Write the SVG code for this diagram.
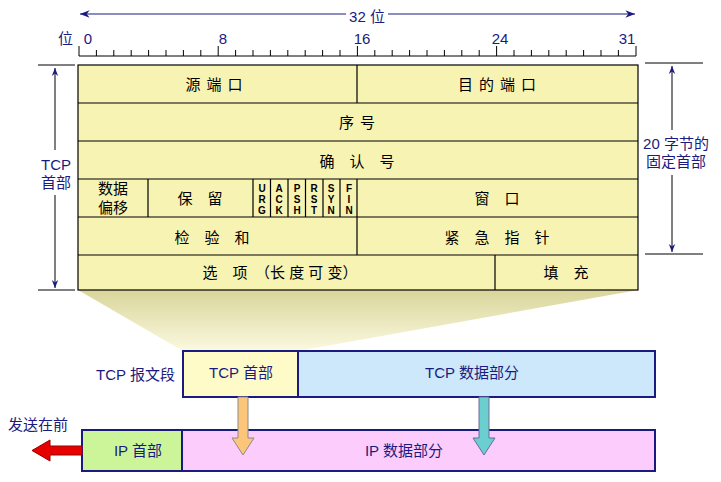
<svg xmlns="http://www.w3.org/2000/svg" width="721" height="482" viewBox="0 0 721 482">
<defs>
<style>
text{font-family:"Liberation Sans","Noto Sans CJK SC",sans-serif;fill:#000;}
.b{fill:#1a1a80;font-size:15px}
.t{font-size:15px;text-anchor:middle}
.f{font-size:10px;font-weight:bold;text-anchor:middle}
.cell{fill:#f7f3b3;stroke:#000;stroke-width:1.2}
.ln{stroke:#1a1a80;stroke-width:1.2;fill:none}
</style>
<marker id="a" viewBox="0 0 10 10" refX="10" refY="5" markerWidth="10" markerHeight="8" orient="auto-start-reverse"><path d="M0,1L10,5L0,9L3,5z" fill="#1a1a80"/></marker>
<linearGradient id="g" x1="0" y1="0" x2="0" y2="1"><stop offset="0" stop-color="#d9d59a"/><stop offset="1" stop-color="#fbf9e0"/></linearGradient>
</defs>
<polygon points="78,290 638,290 298,351 183,351" fill="url(#g)"/>
<g id="ruler">
<line class="ln" x1="80" y1="14" x2="346" y2="14" marker-start="url(#a)"/>
<line class="ln" x1="388" y1="14" x2="635" y2="14" marker-end="url(#a)"/>
<text class="b" x="367" y="22" text-anchor="middle" font-size="17">32 位</text>
<text class="b" x="58" y="44">位</text>
<text class="b" x="88" y="44" text-anchor="middle">0</text>
<text class="b" x="223" y="44" text-anchor="middle">8</text>
<text class="b" x="362" y="44" text-anchor="middle">16</text>
<text class="b" x="500" y="44" text-anchor="middle">24</text>
<text class="b" x="627" y="44" text-anchor="middle">31</text>
<line x1="79" y1="56" x2="636" y2="56" stroke="#000"/>
<path stroke="#000" d="M79,46V56M96.4,50V56M113.8,50V56M131.2,50V56M148.6,50V56M166,50V56M183.4,50V56M200.8,50V56M218.2,46V56M235.6,50V56M253,50V56M270.4,50V56M287.8,50V56M305.2,50V56M322.6,50V56M340,50V56M357.4,46V56M374.8,50V56M392.2,50V56M409.6,50V56M427,50V56M444.4,50V56M461.8,50V56M479.2,50V56M496.6,46V56M514,50V56M531.4,50V56M548.8,50V56M566.2,50V56M583.6,50V56M601,50V56M618.4,50V56M636,46V56"/>
</g>
<g id="header">
<rect class="cell" x="78" y="65" width="560" height="225" stroke-width="2"/>
<path stroke="#000" stroke-width="1.2" d="M78,103H638M78,141H638M78,179H638M78,217H638M78,255H638M357,65V103M357,179V255M148,179V217M253,179V217M270.5,179V217M288,179V217M305.5,179V217M323,179V217M340,179V217M495,255V290"/>
<text class="t" x="217" y="90" letter-spacing="6">源端口</text>
<text class="t" x="500" y="90" letter-spacing="6">目的端口</text>
<text class="t" x="360" y="128" letter-spacing="6">序号</text>
<text class="t" x="357" y="167">确　认　号</text>
<text class="t" x="113" y="194">数据</text>
<text class="t" x="113" y="213">偏移</text>
<text class="t" x="200" y="204">保　留</text>
<g class="f">
<text x="262" y="192">U</text><text x="262" y="203">R</text><text x="262" y="214">G</text>
<text x="279" y="192">A</text><text x="279" y="203">C</text><text x="279" y="214">K</text>
<text x="297" y="192">P</text><text x="297" y="203">S</text><text x="297" y="214">H</text>
<text x="314" y="192">R</text><text x="314" y="203">S</text><text x="314" y="214">T</text>
<text x="331" y="192">S</text><text x="331" y="203">Y</text><text x="331" y="214">N</text>
<text x="349" y="192">F</text><text x="349" y="203">I</text><text x="349" y="214">N</text>
</g>
<text class="t" x="497" y="204">窗　口</text>
<text class="t" x="212" y="243">检　验　和</text>
<text class="t" x="497" y="243">紧　急　指　针</text>
<text class="t" x="280" y="278">选　项　（长 度 可 变）</text>
<text class="t" x="566" y="278">填　充</text>
</g>
<g id="sides">
<path stroke="#000" d="M38,65H75M38,290H75M645,63H703M645,254H703"/>
<line x1="55" y1="68" x2="55" y2="150" stroke="#000" marker-start="url(#a)"/>
<line x1="55" y1="195" x2="55" y2="288" stroke="#000" marker-end="url(#a)"/>
<line x1="672" y1="66" x2="672" y2="130" stroke="#000" marker-start="url(#a)"/>
<line x1="672" y1="175" x2="672" y2="252" stroke="#000" marker-end="url(#a)"/>
<text class="b" x="56" y="170" text-anchor="middle">TCP</text>
<text class="b" x="56" y="188" text-anchor="middle">首部</text>
<text class="b" x="676" y="149" text-anchor="middle">20 字节的</text>
<text class="b" x="676" y="167" text-anchor="middle">固定首部</text>
</g>
<g id="segment">
<text class="b" x="175" y="380" text-anchor="end" font-size="16">TCP 报文段</text>
<rect x="183" y="351" width="115" height="46" fill="#fffbc8" stroke="#1a1a80" stroke-width="2"/>
<rect x="298" y="351" width="357" height="46" fill="#cce8fa" stroke="#1a1a80" stroke-width="2"/>
<text class="b" x="241" y="378" text-anchor="middle">TCP 首部</text>
<text class="b" x="472" y="378" text-anchor="middle">TCP 数据部分</text>
</g>
<g id="ip">
<text class="b" x="8" y="430">发送在前</text>
<rect x="82" y="430" width="100" height="41" fill="#ccf59a" stroke="#1a1a80" stroke-width="2"/>
<rect x="182" y="430" width="473" height="41" fill="#fccdfc" stroke="#1a1a80" stroke-width="2"/>
<text class="b" x="138" y="456" text-anchor="middle">IP 首部</text>
<text class="b" x="404" y="456" text-anchor="middle">IP 数据部分</text>
</g>
<g id="connectors">
<path d="M238,397H248V438H254L243,455L232,438H238z" fill="#fcc67a" stroke="#8a8a8a"/>
<path d="M479,397H489V438H495L484,455L473,438H479z" fill="#6ccfcf" stroke="#6a6a9a"/>
<path d="M82,446V455H50V461L32,450.5L50,440V446z" fill="#e60000" stroke="#900"/>
</g>
</svg>
